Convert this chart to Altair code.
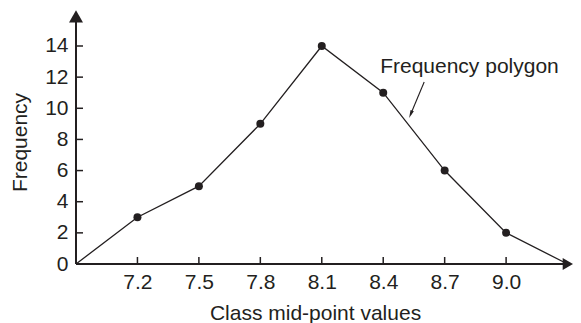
import altair as alt
import pandas as pd

# ---- data ----
mid_points = [7.2, 7.5, 7.8, 8.1, 8.4, 8.7, 9.0]
frequency = [3, 5, 9, 14, 11, 6, 2]
# polygon closes on the class mid-points just outside the range
poly_x = [6.9] + mid_points + [9.3]
poly_y = [0] + frequency + [0]
y_ticks = [0, 2, 4, 6, 8, 10, 12, 14]
y_minor = [2, 4, 6, 8, 10, 12, 14]

annot_text = "Frequency polygon"
annot_pos = [8.385, 12.65]
arrow_start = [8.60, 11.69]
arrow_head = [8.534, 9.615]

INK = "#231f20"
FONT = "Liberation Sans"
FS = 21

x_scale = alt.Scale(domain=[6.9, 9.3266], nice=False, zero=False)
y_scale = alt.Scale(domain=[0, 16.44], nice=False, zero=False)

poly_df = pd.DataFrame({"x": poly_x, "y": poly_y})
pts_df = pd.DataFrame({"x": mid_points, "y": frequency})
xt_df = pd.DataFrame({"x": mid_points, "y": [0] * len(mid_points)})
yt_df = pd.DataFrame({"x": [6.9] * len(y_minor), "y": y_minor})

x_axis = alt.Axis(
    values=mid_points, format=".1f", labelFontSize=FS, labelColor=INK, labelFont=FONT,
    ticks=False, domain=False, grid=False, labelPadding=7, labelFlush=False,
    title="Class mid-point values", titleFontSize=FS, titleFont=FONT, titleColor=INK,
    titleFontWeight="normal", titleX=239, titleY=49, titleBaseline="middle", titleAlign="center",
)
y_axis = alt.Axis(
    values=y_ticks, labelFontSize=FS, labelColor=INK, labelFont=FONT,
    ticks=False, domain=False, grid=False, labelPadding=8, labelFlush=False,
    title="Frequency", titleFontSize=FS, titleFont=FONT, titleColor=INK,
    titleFontWeight="normal", titleX=-56, titleY=134, titleAngle=270,
    titleBaseline="middle", titleAlign="center",
)


def X(field="x"):
    return alt.X(f"{field}:Q", scale=x_scale, axis=x_axis)


def Y(field="y"):
    return alt.Y(f"{field}:Q", scale=y_scale, axis=y_axis)


line = alt.Chart(poly_df).mark_line(color=INK, strokeWidth=1.3).encode(x=X(), y=Y())

dots = alt.Chart(pts_df).mark_circle(color=INK, size=64, opacity=1).encode(x=X(), y=Y())

# axis lines
xaxis_line = alt.Chart(pd.DataFrame({"x": [6.9], "x2": [9.29], "y": [0]})).mark_rule(
    color=INK, strokeWidth=2
).encode(x=X(), x2="x2:Q", y=Y())
yaxis_line = alt.Chart(pd.DataFrame({"x": [6.9], "y": [0], "y2": [15.7]})).mark_rule(
    color=INK, strokeWidth=2
).encode(x=X(), y=Y(), y2="y2:Q")
x_arrow = alt.Chart(pd.DataFrame({"x": [9.3015], "y": [0]})).mark_point(
    shape="triangle-right", size=144, filled=True, color=INK, opacity=1
).encode(x=X(), y=Y())
y_arrow = alt.Chart(pd.DataFrame({"x": [6.9], "y": [15.9]})).mark_point(
    shape="triangle-up", size=196, filled=True, color=INK, opacity=1
).encode(x=X(), y=Y())

# inward ticks
x_ticks = alt.Chart(xt_df).mark_tick(
    orient="vertical", size=7, thickness=1.5, yOffset=-3.5, color=INK, opacity=1
).encode(x=X(), y=Y())
y_tick_marks = alt.Chart(yt_df).mark_tick(
    orient="horizontal", size=7, thickness=1.5, xOffset=3.5, color=INK, opacity=1
).encode(x=X(), y=Y())

# annotation
label = alt.Chart(pd.DataFrame({"x": [annot_pos[0]], "y": [annot_pos[1]], "t": [annot_text]})).mark_text(
    align="left", baseline="middle", fontSize=FS, font=FONT, color=INK
).encode(x=X(), y=Y(), text="t:N")
arrow_line = alt.Chart(pd.DataFrame({
    "x": [arrow_start[0]], "y": [arrow_start[1]], "x2": [arrow_head[0]], "y2": [arrow_head[1]]
})).mark_rule(color=INK, strokeWidth=1.1).encode(x=X(), y=Y(), x2="x2:Q", y2="y2:Q")
arrow_tip = alt.Chart(pd.DataFrame({"x": [arrow_head[0]], "y": [arrow_head[1]]})).mark_point(
    shape="M0,-1L0.45,1L-0.45,1Z", size=64, angle=202.6, filled=True, color=INK, opacity=1
).encode(x=X(), y=Y())

chart = alt.layer(
    line, xaxis_line, yaxis_line, x_arrow, y_arrow, x_ticks, y_tick_marks,
    dots, arrow_line, arrow_tip, label,
).properties(
    width=497, height=256,
    autosize=alt.AutoSizeParams(type="none"),
    padding={"left": 68, "top": 0, "right": 0, "bottom": 59},
    background="white",
).configure_view(stroke=None)

chart.save("out.html", embed_options={"renderer": "svg", "actions": False})
